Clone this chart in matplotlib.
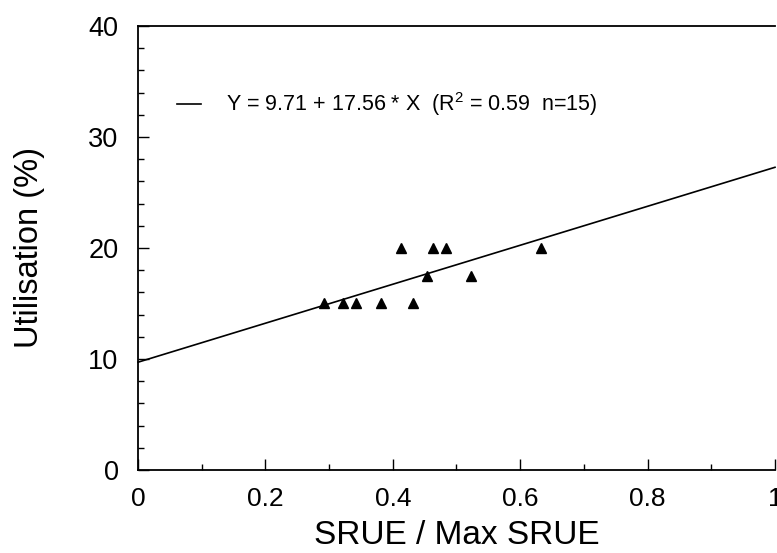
import numpy as np
import matplotlib
matplotlib.use("Agg")
import matplotlib.pyplot as plt
from matplotlib.ticker import MultipleLocator, FuncFormatter

plt.rcParams['font.family'] = ['Liberation Sans', 'DejaVu Sans']
plt.rcParams['mathtext.fontset'] = 'custom'
plt.rcParams['mathtext.rm'] = 'Liberation Sans'

# Observations: relative SRUE vs. utilisation
srue_ratio = [0.292, 0.322, 0.342, 0.382, 0.431, 0.413, 0.463, 0.483, 0.453, 0.522, 0.633]
utilisation = [15, 15, 15, 15, 15, 20, 20, 20, 17.5, 17.5, 20]

# Fitted regression
intercept = 9.71
slope = 17.56
r_squared = 0.59
n_obs = 15

x_ticks = [0, 0.2, 0.4, 0.6, 0.8, 1.0]
y_ticks = [0, 10, 20, 30, 40]

fig = plt.figure(figsize=(7.77, 5.53), dpi=100)
ax = fig.add_axes([0.1776, 0.1501, 0.8198, 0.8029])

xfit = np.array([0.0, 1.0])
yfit = intercept + slope * xfit
label = f"Y = {intercept:.2f} + {slope:.2f} * X  (R$^2$ = {r_squared:.2f}  n={n_obs})"
ax.plot(xfit, yfit, color='black', lw=1.2, label=label, clip_on=False)
ax.plot(srue_ratio, utilisation, linestyle='none', marker='^', ms=7.5,
        color='black', mec='black')

ax.set_xlim(0, 1)
ax.set_ylim(0, 40)
ax.set_xticks(x_ticks)
ax.set_yticks(y_ticks)
ax.xaxis.set_minor_locator(MultipleLocator(0.1))
ax.yaxis.set_minor_locator(MultipleLocator(2))
ax.xaxis.set_major_formatter(FuncFormatter(lambda v, p: f"{v:g}"))

ax.tick_params(axis='both', which='both', direction='in', top=False, right=False,
               width=1.0, color='black')
ax.tick_params(axis='both', which='major', length=8)
ax.tick_params(axis='both', which='minor', length=4.5)
ax.tick_params(axis='x', which='major', labelsize=19, pad=12)
ax.tick_params(axis='y', which='major', labelsize=19.5, pad=14)

for side in ('left', 'bottom', 'top'):
    ax.spines[side].set_linewidth(1.3)
ax.spines['right'].set_visible(False)

ax.set_xlabel("SRUE / Max SRUE", fontsize=24)
ax.set_ylabel("Utilisation (%)", fontsize=23.5)
ax.xaxis.set_label_coords(0.5, -0.112)
ax.yaxis.set_label_coords(-0.146, 0.5)

ax.legend(loc='center left', bbox_to_anchor=(0.061, 0.824), frameon=False,
          fontsize=15.5, handlelength=1.1, handletextpad=1.2,
          borderpad=0, borderaxespad=0)

fig.savefig("out.png", dpi=100)
